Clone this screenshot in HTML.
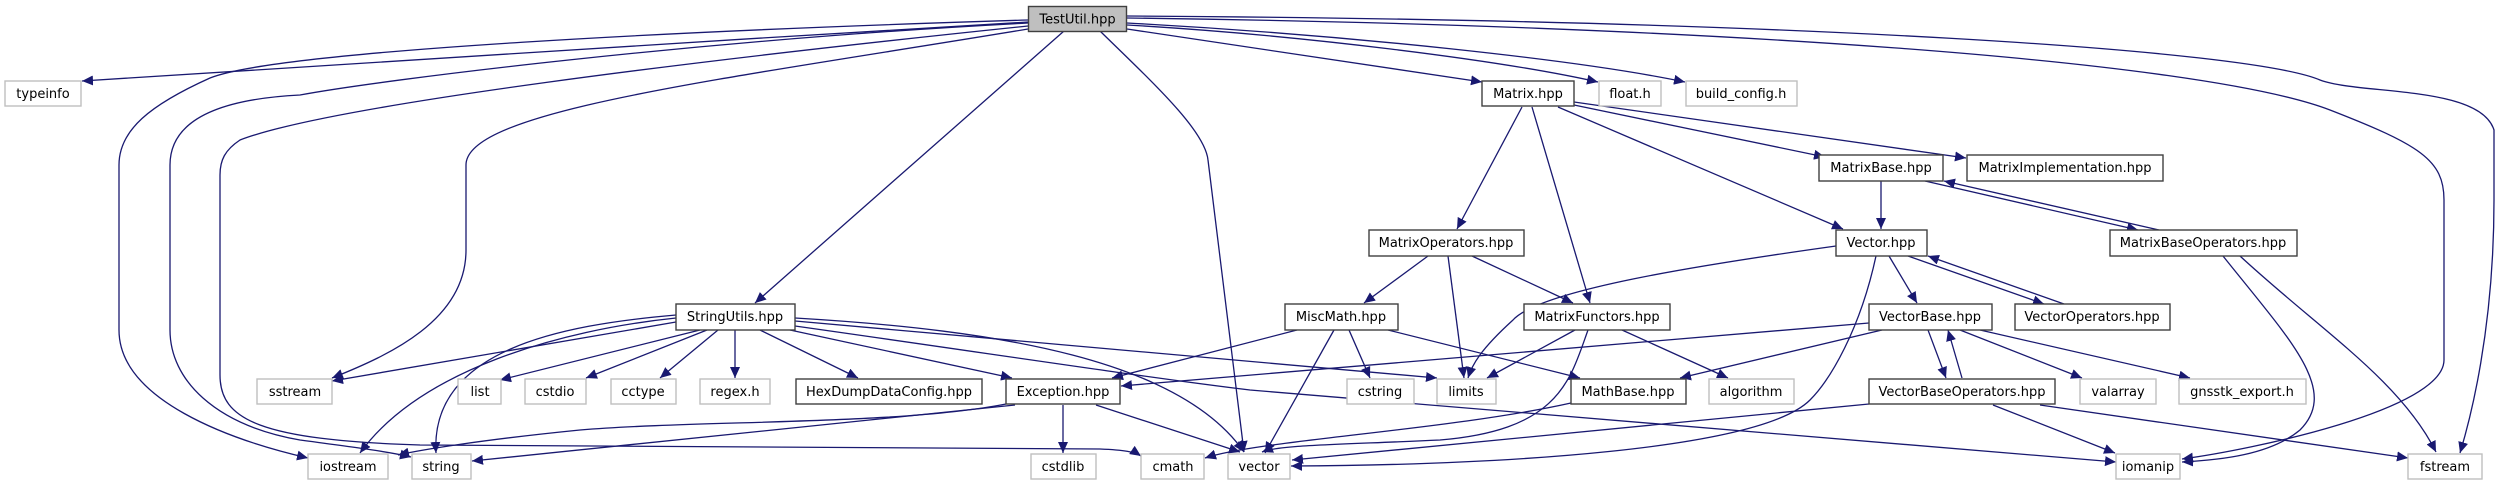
<!DOCTYPE html>
<html><head><meta charset="utf-8"><style>
html,body{margin:0;padding:0;background:#fff;}
svg{display:block;}
text{font-family:"DejaVu Sans","Liberation Sans",sans-serif;font-size:13px;fill:#000;}
.e{fill:none;stroke:#191970;stroke-width:1.3;}
.b{fill:#fff;stroke:#404040;stroke-width:1.4;}
.g{fill:#fff;stroke:#bfbfbf;stroke-width:1.4;}
</style></head><body>
<svg width="2503" height="485" viewBox="0 0 2503 485" xmlns="http://www.w3.org/2000/svg">
<defs>
<marker id="a" markerUnits="userSpaceOnUse" markerWidth="12" markerHeight="10" refX="11" refY="5" orient="auto">
<path d="M0,0 L11,5 L0,10 z" fill="#191970"/>
</marker>
</defs>
<g class="e" marker-end="url(#a)">
<path d="M1028,22 C700,40 300,70 82,81"/>
<path d="M1028,20 C700,30 280,50 210,78 C150,105 119,130 119,165 L119,330 C119,400 230,440 308,458"/>
<path d="M1028,23 C700,40 380,80 300,95 C200,100 170,130 170,165 L170,330 C170,380 215,425 300,440 C360,448 390,452 411,457"/>
<path d="M1028,26 C700,60 330,105 240,140 C225,150 220,160 220,175 L220,375 C220,420 260,440 420,445 L1100,449 C1125,450 1135,452 1141,456"/>
<path d="M1028,29 C720,80 466,110 466,165 L466,250 C466,320 390,355 332,378"/>
<path d="M1064,31 L755,303"/>
<path d="M1100,31 C1150,80 1205,130 1208,160 L1244,452"/>
<path d="M1127,29 L1482,82"/>
<path d="M1127,25 C1300,35 1500,60 1598,82"/>
<path d="M1127,23 C1350,35 1580,60 1685,82"/>
<path d="M1127,18 C1700,25 2200,60 2330,110 C2420,145 2444,160 2444,200 L2444,360 C2444,410 2250,450 2182,459"/>
<path d="M1127,16 C1800,20 2250,50 2320,80 C2360,95 2480,85 2494,130 L2494,200 C2494,330 2470,420 2460,453"/>
<path d="M1522,107 L1457,229"/>
<path d="M1532,107 L1590,303"/>
<path d="M1558,107 L1843,229"/>
<path d="M1574,105 L1825,157"/>
<path d="M1574,102 L1966,158"/>
<path d="M1881,181 L1881,229"/>
<path d="M1925,181 L2138,230"/>
<path d="M2159,230 L1944,181"/>
<path d="M1428,256 L1364,303"/>
<path d="M1448,256 L1464,378"/>
<path d="M1472,256 L1573,303"/>
<path d="M1836,246 C1700,265 1540,290 1513,320 C1480,350 1472,365 1468,378"/>
<path d="M1876,256 C1860,330 1830,380 1810,400 C1760,450 1500,465 1291,466"/>
<path d="M1889,256 L1917,303"/>
<path d="M1908,256 L2044,304"/>
<path d="M2064,304 L1928,256"/>
<path d="M1297,330 L1112,378"/>
<path d="M1349,330 L1370,378"/>
<path d="M1334,330 L1265,453"/>
<path d="M1388,330 L1580,378"/>
<path d="M1575,330 L1487,378"/>
<path d="M1588,330 C1570,380 1560,430 1440,440 C1330,445 1280,445 1262,452"/>
<path d="M1622,330 L1728,378"/>
<path d="M1869,323 L1121,386"/>
<path d="M1882,330 L1680,378"/>
<path d="M1928,330 L1946,378"/>
<path d="M1962,378 L1948,330"/>
<path d="M1960,330 L2082,378"/>
<path d="M1980,330 L2190,378"/>
<path d="M1869,404 L1292,460"/>
<path d="M1993,405 L2115,453"/>
<path d="M2040,405 L2408,458"/>
<path d="M1571,403 C1450,430 1260,440 1205,458"/>
<path d="M2223,256 C2290,340 2340,390 2300,430 C2270,455 2220,460 2182,462"/>
<path d="M2240,256 C2320,330 2400,380 2436,452"/>
<path d="M676,322 L332,381"/>
<path d="M700,330 L500,380"/>
<path d="M707,330 L586,378"/>
<path d="M718,330 L660,378"/>
<path d="M735,330 L735,378"/>
<path d="M760,330 L858,378"/>
<path d="M790,330 L1012,378"/>
<path d="M676,318 C560,330 420,370 360,453"/>
<path d="M676,315 C560,325 430,350 436,453"/>
<path d="M795,318 C1000,330 1180,360 1244,452"/>
<path d="M795,321 L1437,378"/>
<path d="M795,326 C1000,355 1150,378 1250,390 L2116,462"/>
<path d="M1006,404 C900,425 700,420 580,430 C480,440 420,450 398,455"/>
<path d="M1015,405 L472,461"/>
<path d="M1063,405 L1063,453"/>
<path d="M1096,405 L1240,452"/>
</g>
<rect x="1028.5" y="6.5" width="98" height="25" fill="#bfbfbf" stroke="#404040" stroke-width="1.4"/>
<text x="1077.5" y="23.5" text-anchor="middle">TestUtil.hpp</text>
<g>
<rect class="g" x="5" y="81" width="76" height="25"/><text x="43" y="98" text-anchor="middle">typeinfo</text>
<rect class="b" x="1482" y="81" width="92" height="25"/><text x="1528" y="98" text-anchor="middle">Matrix.hpp</text>
<rect class="g" x="1599" y="81" width="62" height="25"/><text x="1630" y="98" text-anchor="middle">float.h</text>
<rect class="g" x="1686" y="81" width="111" height="25"/><text x="1741" y="98" text-anchor="middle">build_config.h</text>
<rect class="b" x="1819" y="155" width="124" height="26"/><text x="1881" y="172" text-anchor="middle">MatrixBase.hpp</text>
<rect class="b" x="1967" y="155" width="196" height="26"/><text x="2065" y="172" text-anchor="middle">MatrixImplementation.hpp</text>
<rect class="b" x="1369" y="230" width="155" height="26"/><text x="1446" y="247" text-anchor="middle">MatrixOperators.hpp</text>
<rect class="b" x="1836" y="230" width="91" height="26"/><text x="1881" y="247" text-anchor="middle">Vector.hpp</text>
<rect class="b" x="2110" y="230" width="187" height="26"/><text x="2203" y="247" text-anchor="middle">MatrixBaseOperators.hpp</text>
<rect class="b" x="676" y="304" width="119" height="26"/><text x="735" y="321" text-anchor="middle">StringUtils.hpp</text>
<rect class="b" x="1285" y="304" width="113" height="26"/><text x="1341" y="321" text-anchor="middle">MiscMath.hpp</text>
<rect class="b" x="1524" y="304" width="146" height="26"/><text x="1597" y="321" text-anchor="middle">MatrixFunctors.hpp</text>
<rect class="b" x="1869" y="304" width="123" height="26"/><text x="1930" y="321" text-anchor="middle">VectorBase.hpp</text>
<rect class="b" x="2015" y="304" width="155" height="26"/><text x="2092" y="321" text-anchor="middle">VectorOperators.hpp</text>
<rect class="g" x="257" y="379" width="75" height="25"/><text x="295" y="396" text-anchor="middle">sstream</text>
<rect class="g" x="458" y="379" width="43" height="25"/><text x="480" y="396" text-anchor="middle">list</text>
<rect class="g" x="525" y="379" width="61" height="25"/><text x="555" y="396" text-anchor="middle">cstdio</text>
<rect class="g" x="611" y="379" width="65" height="25"/><text x="643" y="396" text-anchor="middle">cctype</text>
<rect class="g" x="700" y="379" width="70" height="25"/><text x="735" y="396" text-anchor="middle">regex.h</text>
<rect class="b" x="796" y="379" width="186" height="25"/><text x="889" y="396" text-anchor="middle">HexDumpDataConfig.hpp</text>
<rect class="b" x="1006" y="379" width="114" height="25"/><text x="1063" y="396" text-anchor="middle">Exception.hpp</text>
<rect class="g" x="1347" y="379" width="67" height="25"/><text x="1380" y="396" text-anchor="middle">cstring</text>
<rect class="g" x="1437" y="379" width="59" height="25"/><text x="1466" y="396" text-anchor="middle">limits</text>
<rect class="b" x="1571" y="379" width="115" height="25"/><text x="1628" y="396" text-anchor="middle">MathBase.hpp</text>
<rect class="g" x="1709" y="379" width="85" height="25"/><text x="1751" y="396" text-anchor="middle">algorithm</text>
<rect class="b" x="1869" y="379" width="186" height="25"/><text x="1962" y="396" text-anchor="middle">VectorBaseOperators.hpp</text>
<rect class="g" x="2080" y="379" width="76" height="25"/><text x="2118" y="396" text-anchor="middle">valarray</text>
<rect class="g" x="2179" y="379" width="127" height="25"/><text x="2242" y="396" text-anchor="middle">gnsstk_export.h</text>
<rect class="g" x="308" y="454" width="80" height="25"/><text x="348" y="471" text-anchor="middle">iostream</text>
<rect class="g" x="412" y="454" width="59" height="25"/><text x="441" y="471" text-anchor="middle">string</text>
<rect class="g" x="1031" y="454" width="65" height="25"/><text x="1063" y="471" text-anchor="middle">cstdlib</text>
<rect class="g" x="1141" y="454" width="63" height="25"/><text x="1173" y="471" text-anchor="middle">cmath</text>
<rect class="g" x="1228" y="454" width="62" height="25"/><text x="1259" y="471" text-anchor="middle">vector</text>
<rect class="g" x="2116" y="454" width="64" height="25"/><text x="2148" y="471" text-anchor="middle">iomanip</text>
<rect class="g" x="2408" y="454" width="74" height="25"/><text x="2445" y="471" text-anchor="middle">fstream</text>
</g>
</svg>
</body></html>
